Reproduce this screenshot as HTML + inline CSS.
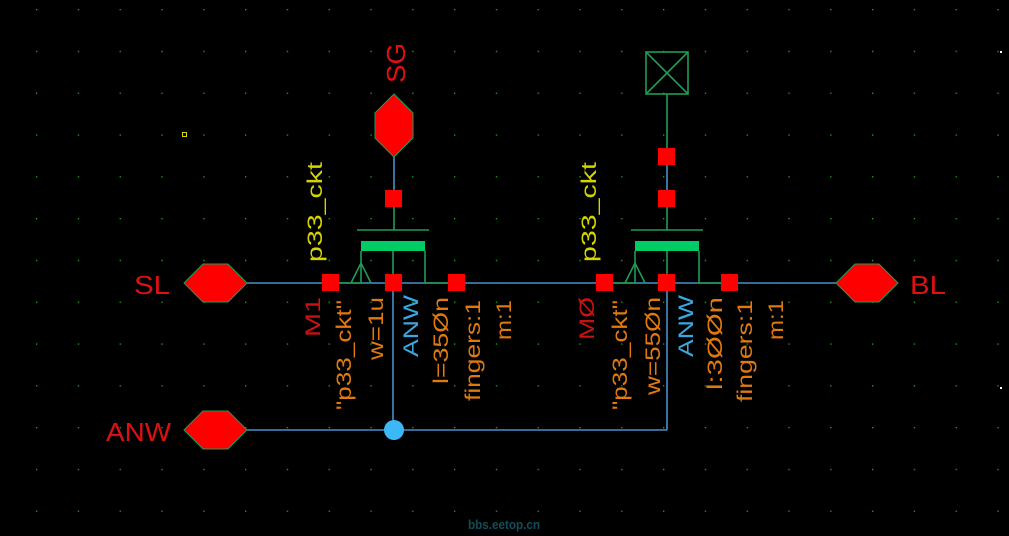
<!DOCTYPE html>
<html><head><meta charset="utf-8"><style>
html,body{margin:0;padding:0;background:#000;width:1009px;height:536px;overflow:hidden}
svg{display:block}
text{font-family:"Liberation Sans",sans-serif;font-weight:normal}
</style></head><body>
<svg width="1009" height="536" viewBox="0 0 1009 536" xmlns="http://www.w3.org/2000/svg">
<defs>
<pattern id="g" x="36" y="9" width="41.8" height="41.8" patternUnits="userSpaceOnUse">
<rect x="0" y="0" width="1.3" height="1.3" fill="#1fae1f"/>
</pattern>
</defs>
<rect width="1009" height="536" fill="#000"/>
<rect width="1009" height="536" fill="url(#g)"/>
<rect x="1000" y="51" width="2" height="2" fill="#fff"/>
<rect x="1000" y="387" width="2" height="2" fill="#fff"/>
<rect x="182.5" y="132.5" width="4" height="4" fill="none" stroke="#d8d800" stroke-width="1"/>

<g stroke="#4a90c8" stroke-width="1.6" fill="none">
<line x1="247" y1="283" x2="836" y2="283"/>
<line x1="247" y1="430" x2="667" y2="430"/>
<line x1="393" y1="283" x2="393" y2="430"/>
<line x1="667" y1="283" x2="667" y2="430"/>
<line x1="394" y1="157" x2="394" y2="198"/>
<line x1="667" y1="157" x2="667" y2="198"/>
</g>
<g stroke="#1f9c55" stroke-width="1.6" fill="none">
<line x1="357" y1="230" x2="429" y2="230"/>
<line x1="394" y1="198" x2="394" y2="230"/>
<polyline points="339,283 361,283 361,251"/>
<polyline points="425,251 425,283 456,283"/>
<line x1="393" y1="251" x2="393" y2="283"/>
<polyline points="351,283 361,263 371,283"/>
<line x1="631" y1="230" x2="703" y2="230"/>
<line x1="667" y1="94" x2="667" y2="157"/>
<line x1="667" y1="198" x2="667" y2="230"/>
<polyline points="613,283 635,283 635,251"/>
<polyline points="699,251 699,283 730,283"/>
<line x1="667" y1="251" x2="667" y2="283"/>
<polyline points="625,283 635,263 645,283"/>
<rect x="646" y="52" width="42" height="42"/>
<line x1="646" y1="52" x2="688" y2="94"/>
<line x1="688" y1="52" x2="646" y2="94"/>
</g>
<rect x="361" y="241" width="64" height="10" fill="#00cc66"/>
<rect x="635" y="241" width="64" height="10" fill="#00cc66"/>

<g fill="#ff0000">
<rect x="322" y="274" width="17" height="17"/>
<rect x="385" y="274" width="17" height="17"/>
<rect x="448" y="274" width="17" height="17"/>
<rect x="385" y="190" width="17" height="17"/>
<rect x="596" y="274" width="17" height="17"/>
<rect x="658" y="274" width="17" height="17"/>
<rect x="721" y="274" width="17" height="17"/>
<rect x="658" y="190" width="17" height="17"/>
<rect x="658" y="148" width="17" height="17"/>
</g>
<circle cx="394" cy="430" r="10" fill="#3bb8f5"/>

<g fill="#ff0000" stroke="#1f9c55" stroke-width="1">
<polygon points="184,283 203,264 228,264 247,283 228,302 203,302"/>
<polygon points="184,430 203,411 228,411 247,430 228,449 203,449"/>
<polygon points="836,283 855,264 879,264 898,283 879,302 855,302"/>
<polygon points="394,94 413,113 413,138 394,157 375,138 375,113"/>
</g>
<g fill="#dd1111" font-size="26">
<text x="134" y="294" textLength="36" lengthAdjust="spacingAndGlyphs">SL</text>
<text x="106" y="441" textLength="65" lengthAdjust="spacingAndGlyphs">ANW</text>
<text x="910" y="294" textLength="36" lengthAdjust="spacingAndGlyphs">BL</text>
<text transform="translate(405,83) rotate(-90)" textLength="40" lengthAdjust="spacingAndGlyphs">SG</text>
</g>

<g font-size="21">
<text transform="translate(322,262) rotate(-90)" fill="#d4d400" textLength="100" lengthAdjust="spacingAndGlyphs">p33_ckt</text>
<text transform="translate(596,262) rotate(-90)" fill="#d4d400" textLength="100" lengthAdjust="spacingAndGlyphs">p33_ckt</text>

<text transform="translate(320,337) rotate(-90)" fill="#cc1111" textLength="40" lengthAdjust="spacingAndGlyphs">M1</text>
<text transform="translate(351,410) rotate(-90)" fill="#e07a10" textLength="110" lengthAdjust="spacingAndGlyphs">"p33_ckt"</text>
<text transform="translate(383,360) rotate(-90)" fill="#e07a10" textLength="63" lengthAdjust="spacingAndGlyphs">w=1u</text>
<text transform="translate(418,357) rotate(-90)" fill="#3aa8e0" textLength="62" lengthAdjust="spacingAndGlyphs">ANW</text>
<text transform="translate(448,384) rotate(-90)" fill="#e07a10" textLength="87" lengthAdjust="spacingAndGlyphs">l=35Øn</text>
<text transform="translate(480,401) rotate(-90)" fill="#e07a10" textLength="101" lengthAdjust="spacingAndGlyphs">fingers:1</text>
<text transform="translate(511,340) rotate(-90)" fill="#e07a10" textLength="40" lengthAdjust="spacingAndGlyphs">m:1</text>

<text transform="translate(594,340) rotate(-90)" fill="#cc1111" textLength="43" lengthAdjust="spacingAndGlyphs">MØ</text>
<text transform="translate(627,410) rotate(-90)" fill="#e07a10" textLength="110" lengthAdjust="spacingAndGlyphs">"p33_ckt"</text>
<text transform="translate(660,395) rotate(-90)" fill="#e07a10" textLength="98" lengthAdjust="spacingAndGlyphs">w=55Øn</text>
<text transform="translate(693,357) rotate(-90)" fill="#3aa8e0" textLength="62" lengthAdjust="spacingAndGlyphs">ANW</text>
<text transform="translate(722,390) rotate(-90)" fill="#e07a10" textLength="93" lengthAdjust="spacingAndGlyphs">l:3ØØn</text>
<text transform="translate(752,402) rotate(-90)" fill="#e07a10" textLength="102" lengthAdjust="spacingAndGlyphs">fingers:1</text>
<text transform="translate(783,340) rotate(-90)" fill="#e07a10" textLength="40" lengthAdjust="spacingAndGlyphs">m:1</text>
</g>

<text x="468" y="529" fill="#124e5a" font-size="13" style="font-weight:bold" textLength="72" lengthAdjust="spacingAndGlyphs">bbs.eetop.cn</text>
</svg>
</body></html>
